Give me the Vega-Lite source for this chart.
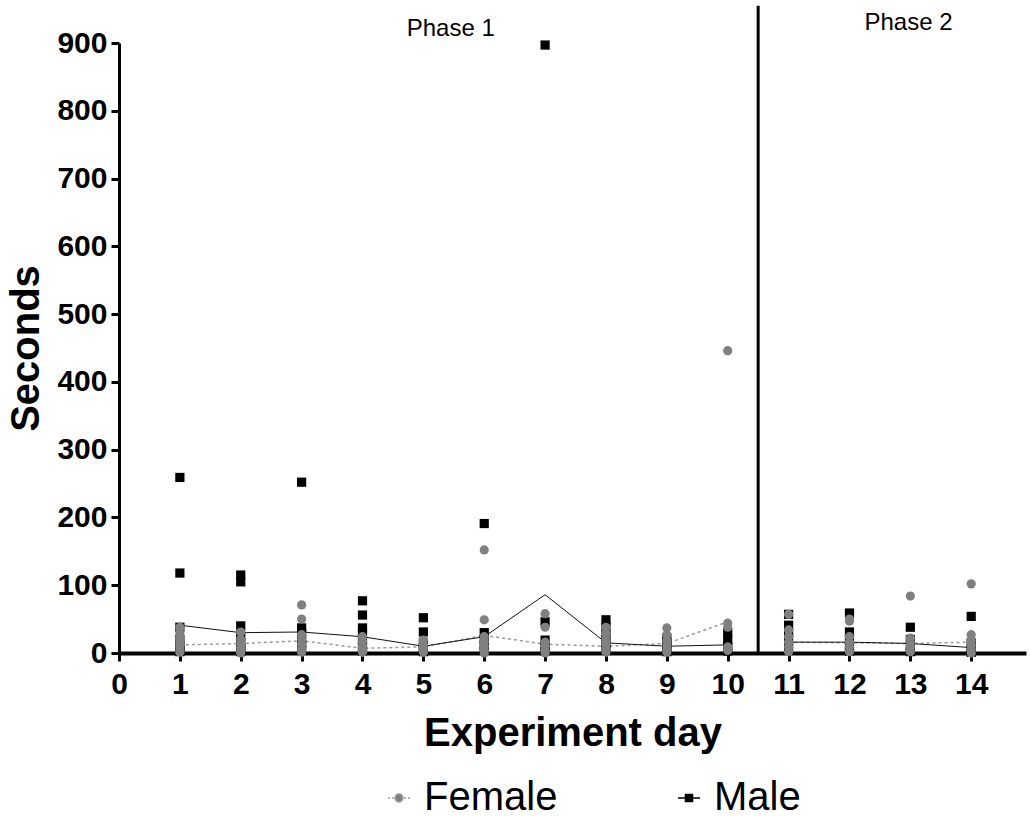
{
  "$schema": "https://vega.github.io/schema/vega-lite/v6.json",
  "autosize": {"type": "none"},
  "padding": {"left": 119, "top": 43, "right": 4, "bottom": 163},
  "width": 907,
  "height": 610,
  "background": "white",
  "config": {
    "view": {"stroke": null},
    "font": "Liberation Sans",
    "axis": {
      "grid": false,
      "domainColor": "black",
      "tickColor": "black",
      "tickWidth": 3,
      "tickSize": 8,
      "labelFont": "Liberation Sans",
      "labelFontWeight": "bold",
      "labelFontSize": 30,
      "labelColor": "black",
      "labelFlush": false,
      "labelOverlap": false,
      "titleFont": "Liberation Sans",
      "titleFontWeight": "bold",
      "titleFontSize": 40,
      "titleColor": "black"
    }
  },
  "resolve": {"scale": {"color": "independent"}, "legend": {"color": "independent"}},
  "datasets": {
    "points": [
      {"day": 1, "seconds": 259, "sex": "Male"}, {"day": 1, "seconds": 118, "sex": "Male"}, {"day": 1, "seconds": 38, "sex": "Male"}, {"day": 1, "seconds": 20, "sex": "Male"}, {"day": 1, "seconds": 10, "sex": "Male"}, {"day": 1, "seconds": 5, "sex": "Male"}, {"day": 1, "seconds": 2, "sex": "Male"},
      {"day": 2, "seconds": 115, "sex": "Male"}, {"day": 2, "seconds": 105, "sex": "Male"}, {"day": 2, "seconds": 40, "sex": "Male"}, {"day": 2, "seconds": 25, "sex": "Male"}, {"day": 2, "seconds": 15, "sex": "Male"}, {"day": 2, "seconds": 6, "sex": "Male"}, {"day": 2, "seconds": 2, "sex": "Male"},
      {"day": 3, "seconds": 252, "sex": "Male"}, {"day": 3, "seconds": 37, "sex": "Male"}, {"day": 3, "seconds": 30, "sex": "Male"}, {"day": 3, "seconds": 20, "sex": "Male"}, {"day": 3, "seconds": 12, "sex": "Male"}, {"day": 3, "seconds": 5, "sex": "Male"},
      {"day": 4, "seconds": 77, "sex": "Male"}, {"day": 4, "seconds": 56, "sex": "Male"}, {"day": 4, "seconds": 37, "sex": "Male"}, {"day": 4, "seconds": 30, "sex": "Male"}, {"day": 4, "seconds": 20, "sex": "Male"}, {"day": 4, "seconds": 10, "sex": "Male"}, {"day": 4, "seconds": 3, "sex": "Male"},
      {"day": 5, "seconds": 52, "sex": "Male"}, {"day": 5, "seconds": 31, "sex": "Male"}, {"day": 5, "seconds": 15, "sex": "Male"}, {"day": 5, "seconds": 8, "sex": "Male"}, {"day": 5, "seconds": 2, "sex": "Male"},
      {"day": 6, "seconds": 191, "sex": "Male"}, {"day": 6, "seconds": 30, "sex": "Male"}, {"day": 6, "seconds": 20, "sex": "Male"}, {"day": 6, "seconds": 12, "sex": "Male"}, {"day": 6, "seconds": 4, "sex": "Male"},
      {"day": 7, "seconds": 897, "sex": "Male"}, {"day": 7, "seconds": 46, "sex": "Male"}, {"day": 7, "seconds": 19, "sex": "Male"}, {"day": 7, "seconds": 10, "sex": "Male"}, {"day": 7, "seconds": 3, "sex": "Male"},
      {"day": 8, "seconds": 49, "sex": "Male"}, {"day": 8, "seconds": 38, "sex": "Male"}, {"day": 8, "seconds": 25, "sex": "Male"}, {"day": 8, "seconds": 15, "sex": "Male"}, {"day": 8, "seconds": 5, "sex": "Male"},
      {"day": 9, "seconds": 22, "sex": "Male"}, {"day": 9, "seconds": 15, "sex": "Male"}, {"day": 9, "seconds": 8, "sex": "Male"}, {"day": 9, "seconds": 2, "sex": "Male"},
      {"day": 10, "seconds": 30, "sex": "Male"}, {"day": 10, "seconds": 19, "sex": "Male"}, {"day": 10, "seconds": 10, "sex": "Male"}, {"day": 10, "seconds": 3, "sex": "Male"},
      {"day": 11, "seconds": 57, "sex": "Male"}, {"day": 11, "seconds": 41, "sex": "Male"}, {"day": 11, "seconds": 30, "sex": "Male"}, {"day": 11, "seconds": 20, "sex": "Male"}, {"day": 11, "seconds": 8, "sex": "Male"},
      {"day": 12, "seconds": 59, "sex": "Male"}, {"day": 12, "seconds": 31, "sex": "Male"}, {"day": 12, "seconds": 20, "sex": "Male"}, {"day": 12, "seconds": 10, "sex": "Male"}, {"day": 12, "seconds": 3, "sex": "Male"},
      {"day": 13, "seconds": 38, "sex": "Male"}, {"day": 13, "seconds": 20, "sex": "Male"}, {"day": 13, "seconds": 10, "sex": "Male"}, {"day": 13, "seconds": 2, "sex": "Male"},
      {"day": 14, "seconds": 54, "sex": "Male"}, {"day": 14, "seconds": 15, "sex": "Male"}, {"day": 14, "seconds": 6, "sex": "Male"}, {"day": 14, "seconds": 1, "sex": "Male"},
      {"day": 1, "seconds": 38, "sex": "Female"}, {"day": 1, "seconds": 30, "sex": "Female"}, {"day": 1, "seconds": 22, "sex": "Female"}, {"day": 1, "seconds": 15, "sex": "Female"}, {"day": 1, "seconds": 10, "sex": "Female"}, {"day": 1, "seconds": 5, "sex": "Female"}, {"day": 1, "seconds": 1, "sex": "Female"},
      {"day": 2, "seconds": 31, "sex": "Female"}, {"day": 2, "seconds": 20, "sex": "Female"}, {"day": 2, "seconds": 14, "sex": "Female"}, {"day": 2, "seconds": 8, "sex": "Female"}, {"day": 2, "seconds": 3, "sex": "Female"}, {"day": 2, "seconds": 0, "sex": "Female"},
      {"day": 3, "seconds": 71, "sex": "Female"}, {"day": 3, "seconds": 50, "sex": "Female"}, {"day": 3, "seconds": 27, "sex": "Female"}, {"day": 3, "seconds": 20, "sex": "Female"}, {"day": 3, "seconds": 13, "sex": "Female"}, {"day": 3, "seconds": 6, "sex": "Female"}, {"day": 3, "seconds": 1, "sex": "Female"},
      {"day": 4, "seconds": 24, "sex": "Female"}, {"day": 4, "seconds": 17, "sex": "Female"}, {"day": 4, "seconds": 10, "sex": "Female"}, {"day": 4, "seconds": 5, "sex": "Female"}, {"day": 4, "seconds": 1, "sex": "Female"},
      {"day": 5, "seconds": 19, "sex": "Female"}, {"day": 5, "seconds": 13, "sex": "Female"}, {"day": 5, "seconds": 7, "sex": "Female"}, {"day": 5, "seconds": 1, "sex": "Female"},
      {"day": 6, "seconds": 152, "sex": "Female"}, {"day": 6, "seconds": 49, "sex": "Female"}, {"day": 6, "seconds": 24, "sex": "Female"}, {"day": 6, "seconds": 17, "sex": "Female"}, {"day": 6, "seconds": 10, "sex": "Female"}, {"day": 6, "seconds": 4, "sex": "Female"}, {"day": 6, "seconds": 0, "sex": "Female"},
      {"day": 7, "seconds": 58, "sex": "Female"}, {"day": 7, "seconds": 38, "sex": "Female"}, {"day": 7, "seconds": 16, "sex": "Female"}, {"day": 7, "seconds": 10, "sex": "Female"}, {"day": 7, "seconds": 4, "sex": "Female"}, {"day": 7, "seconds": 0, "sex": "Female"},
      {"day": 8, "seconds": 38, "sex": "Female"}, {"day": 8, "seconds": 29, "sex": "Female"}, {"day": 8, "seconds": 20, "sex": "Female"}, {"day": 8, "seconds": 13, "sex": "Female"}, {"day": 8, "seconds": 6, "sex": "Female"}, {"day": 8, "seconds": 1, "sex": "Female"},
      {"day": 9, "seconds": 37, "sex": "Female"}, {"day": 9, "seconds": 27, "sex": "Female"}, {"day": 9, "seconds": 18, "sex": "Female"}, {"day": 9, "seconds": 11, "sex": "Female"}, {"day": 9, "seconds": 5, "sex": "Female"}, {"day": 9, "seconds": 1, "sex": "Female"},
      {"day": 10, "seconds": 446, "sex": "Female"}, {"day": 10, "seconds": 44, "sex": "Female"}, {"day": 10, "seconds": 38, "sex": "Female"}, {"day": 10, "seconds": 9, "sex": "Female"}, {"day": 10, "seconds": 4, "sex": "Female"},
      {"day": 11, "seconds": 57, "sex": "Female"}, {"day": 11, "seconds": 34, "sex": "Female"}, {"day": 11, "seconds": 24, "sex": "Female"}, {"day": 11, "seconds": 16, "sex": "Female"}, {"day": 11, "seconds": 9, "sex": "Female"}, {"day": 11, "seconds": 2, "sex": "Female"},
      {"day": 12, "seconds": 50, "sex": "Female"}, {"day": 12, "seconds": 47, "sex": "Female"}, {"day": 12, "seconds": 24, "sex": "Female"}, {"day": 12, "seconds": 16, "sex": "Female"}, {"day": 12, "seconds": 9, "sex": "Female"}, {"day": 12, "seconds": 2, "sex": "Female"},
      {"day": 13, "seconds": 84, "sex": "Female"}, {"day": 13, "seconds": 22, "sex": "Female"}, {"day": 13, "seconds": 15, "sex": "Female"}, {"day": 13, "seconds": 9, "sex": "Female"}, {"day": 13, "seconds": 2, "sex": "Female"},
      {"day": 14, "seconds": 102, "sex": "Female"}, {"day": 14, "seconds": 27, "sex": "Female"}, {"day": 14, "seconds": 18, "sex": "Female"}, {"day": 14, "seconds": 11, "sex": "Female"}, {"day": 14, "seconds": 5, "sex": "Female"}, {"day": 14, "seconds": 0, "sex": "Female"}
    ],
    "means": [
      {"day": 1, "seconds": 41, "sex": "Male", "phase": 1}, {"day": 2, "seconds": 30, "sex": "Male", "phase": 1}, {"day": 3, "seconds": 31, "sex": "Male", "phase": 1}, {"day": 4, "seconds": 24, "sex": "Male", "phase": 1}, {"day": 5, "seconds": 10, "sex": "Male", "phase": 1}, {"day": 6, "seconds": 24, "sex": "Male", "phase": 1}, {"day": 7, "seconds": 86, "sex": "Male", "phase": 1}, {"day": 8, "seconds": 15, "sex": "Male", "phase": 1}, {"day": 9, "seconds": 10, "sex": "Male", "phase": 1}, {"day": 10, "seconds": 12, "sex": "Male", "phase": 1},
      {"day": 11, "seconds": 16, "sex": "Male", "phase": 2}, {"day": 12, "seconds": 16, "sex": "Male", "phase": 2}, {"day": 13, "seconds": 14, "sex": "Male", "phase": 2}, {"day": 14, "seconds": 8, "sex": "Male", "phase": 2},
      {"day": 1, "seconds": 12, "sex": "Female", "phase": 1}, {"day": 2, "seconds": 14, "sex": "Female", "phase": 1}, {"day": 3, "seconds": 18, "sex": "Female", "phase": 1}, {"day": 4, "seconds": 7, "sex": "Female", "phase": 1}, {"day": 5, "seconds": 9, "sex": "Female", "phase": 1}, {"day": 6, "seconds": 26, "sex": "Female", "phase": 1}, {"day": 7, "seconds": 13, "sex": "Female", "phase": 1}, {"day": 8, "seconds": 10, "sex": "Female", "phase": 1}, {"day": 9, "seconds": 14, "sex": "Female", "phase": 1}, {"day": 10, "seconds": 46, "sex": "Female", "phase": 1},
      {"day": 11, "seconds": 16, "sex": "Female", "phase": 2}, {"day": 12, "seconds": 15, "sex": "Female", "phase": 2}, {"day": 13, "seconds": 14, "sex": "Female", "phase": 2}, {"day": 14, "seconds": 16, "sex": "Female", "phase": 2}
    ],
    "divider": [{"day": 10.5, "low": 0, "high": 955}],
    "phases": [{"day": 5.45, "seconds": 920, "label": "Phase 1"}, {"day": 12.97, "seconds": 929, "label": "Phase 2"}]
  },
  "encoding": {
    "x": {
      "field": "day", "type": "quantitative",
      "scale": {"domain": [0, 14.9], "nice": false, "zero": false},
      "axis": {"title": "Experiment day", "values": [0,1,2,3,4,5,6,7,8,9,10,11,12,13,14], "domainWidth": 4, "labelPadding": 8, "titlePadding": 14}
    },
    "y": {
      "field": "seconds", "type": "quantitative",
      "scale": {"domain": [0, 900], "nice": false},
      "axis": {"title": "Seconds", "values": [0,100,200,300,400,500,600,700,800,900], "domainWidth": 3, "labelPadding": 4, "titlePadding": 10}
    }
  },
  "layer": [
    {
      "data": {"name": "divider"},
      "mark": {"type": "rule", "color": "black", "strokeWidth": 3},
      "encoding": {
        "x": {"field": "day", "type": "quantitative"},
        "y": {"field": "low", "type": "quantitative"},
        "y2": {"field": "high"}
      }
    },
    {
      "data": {"name": "phases"},
      "mark": {"type": "text", "fontSize": 24, "font": "Liberation Sans", "color": "black", "baseline": "middle", "align": "center"},
      "encoding": {"text": {"field": "label"}}
    },
    {
      "data": {"name": "means"},
      "transform": [{"filter": "datum.sex === 'Female'"}],
      "mark": {"type": "line", "color": "#9a9a9a", "strokeWidth": 1.5, "strokeDash": [3, 3]},
      "encoding": {"detail": {"field": "phase"}}
    },
    {
      "data": {"name": "means"},
      "transform": [{"filter": "datum.sex === 'Male'"}],
      "mark": {"type": "line", "color": "#111111", "strokeWidth": 1},
      "encoding": {"detail": {"field": "phase"}}
    },
    {
      "data": {"name": "points"},
      "transform": [{"filter": "datum.sex === 'Male'"}],
      "mark": {"type": "point", "shape": "square", "filled": true, "opacity": 1, "size": 85},
      "encoding": {
        "color": {
          "field": "sex", "type": "nominal",
          "scale": {"domain": ["Male"], "range": ["#000000"]},
          "legend": {
            "title": null,
            "orient": "none",
            "legendX": 550,
            "legendY": 735,
            "symbolType": "M-1,0H1M-0.32,-0.32H0.32V0.32H-0.32Z",
            "symbolSize": 484,
            "symbolStrokeColor": "#000000",
            "symbolStrokeWidth": 1.5,
            "labelFontSize": 40,
            "labelFont": "Liberation Sans",
            "labelColor": "black",
            "labelOffset": 5
          }
        }
      }
    },
    {
      "data": {"name": "points"},
      "transform": [{"filter": "datum.sex === 'Female'"}],
      "mark": {"type": "point", "shape": "circle", "filled": true, "opacity": 1, "size": 85},
      "encoding": {
        "color": {
          "field": "sex", "type": "nominal",
          "scale": {"domain": ["Female"], "range": ["#808080"]},
          "legend": {
            "title": null,
            "orient": "none",
            "legendX": 260,
            "legendY": 735,
            "symbolType": "M-1,0H-0.82M-0.64,0H-0.46M0.46,0H0.64M0.82,0H1M-0.36,0A0.36,0.36 0 1,0 0.36,0A0.36,0.36 0 1,0 -0.36,0Z",
            "symbolSize": 484,
            "symbolStrokeColor": "#9a9a9a",
            "symbolStrokeWidth": 1.5,
            "labelFontSize": 40,
            "labelFont": "Liberation Sans",
            "labelColor": "black",
            "labelOffset": 5
          }
        }
      }
    }
  ]
}
